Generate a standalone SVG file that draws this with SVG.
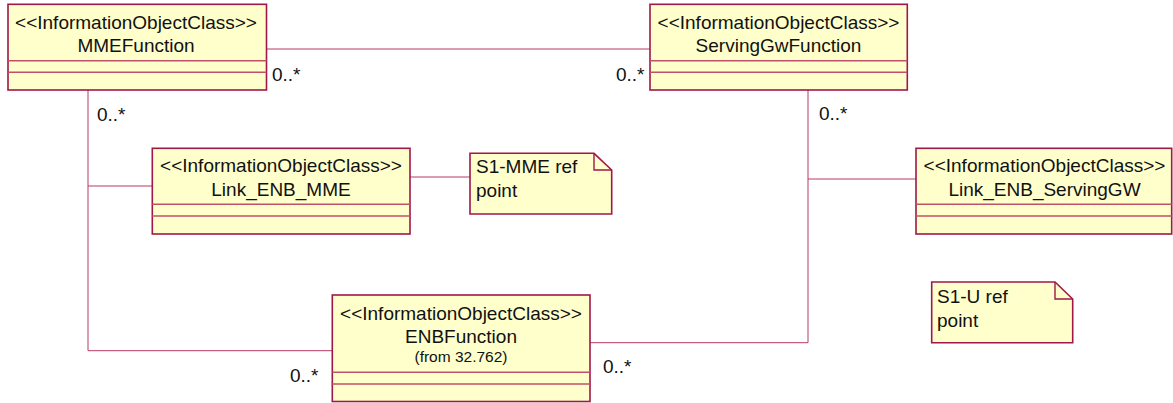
<svg xmlns="http://www.w3.org/2000/svg" width="1173" height="403" viewBox="0 0 1173 403">
<style>
text{font-family:"Liberation Sans",Arial,sans-serif;font-size:19px;fill:#111}
.c{text-anchor:middle}
.small{font-size:15.5px}
.box{fill:#FFFFCC;stroke:#A0174A;stroke-width:1.6}
.sep{stroke:#C0506A;stroke-width:1.4;fill:none}
.conn{stroke:#B83A64;stroke-width:1;fill:none}
.fold{fill:none;stroke:#A0174A;stroke-width:1.4}
</style>
<g id="connectors">
<line class="conn" x1="266" y1="49" x2="650" y2="49"/>
<polyline class="conn" points="88,90 88,350.7 332,350.7"/>
<line class="conn" x1="88" y1="186" x2="152" y2="186"/>
<line class="conn" x1="410" y1="177" x2="470" y2="177"/>
<polyline class="conn" points="808,90 808,342.7 590,342.7"/>
<line class="conn" x1="808" y1="179" x2="916" y2="179"/>
<text x="272" y="81">0..*</text>
<text x="616" y="81">0..*</text>
<text x="97" y="121">0..*</text>
<text x="819" y="120">0..*</text>
<text x="290" y="382">0..*</text>
<text x="603" y="373">0..*</text>
</g>
<g id="MMEFunction">
<rect class="box" x="8" y="4.3" width="258.5" height="85.7"/>
<line class="sep" x1="8" y1="60.7" x2="266.5" y2="60.7"/>
<line class="sep" x1="8" y1="72.3" x2="266.5" y2="72.3"/>
<text class="c" x="136" y="29">&lt;&lt;InformationObjectClass&gt;&gt;</text>
<text class="c" x="136" y="52">MMEFunction</text>
</g>
<g id="ServingGwFunction">
<rect class="box" x="650" y="4.3" width="257.3" height="85.7"/>
<line class="sep" x1="650" y1="60.7" x2="907.3" y2="60.7"/>
<line class="sep" x1="650" y1="72.3" x2="907.3" y2="72.3"/>
<text class="c" x="778.5" y="29">&lt;&lt;InformationObjectClass&gt;&gt;</text>
<text class="c" x="778.5" y="52">ServingGwFunction</text>
</g>
<g id="Link_ENB_MME">
<rect class="box" x="152.3" y="148.3" width="257.7" height="85.7"/>
<line class="sep" x1="152.3" y1="204.3" x2="410" y2="204.3"/>
<line class="sep" x1="152.3" y1="216" x2="410" y2="216"/>
<text class="c" x="281" y="172">&lt;&lt;InformationObjectClass&gt;&gt;</text>
<text class="c" x="281" y="196">Link_ENB_MME</text>
</g>
<g id="Link_ENB_ServingGW">
<rect class="box" x="916" y="148.3" width="255.7" height="85.7"/>
<line class="sep" x1="916" y1="204.3" x2="1171.7" y2="204.3"/>
<line class="sep" x1="916" y1="216" x2="1171.7" y2="216"/>
<text class="c" x="1044.5" y="172">&lt;&lt;InformationObjectClass&gt;&gt;</text>
<text class="c" x="1044.5" y="196">Link_ENB_ServingGW</text>
</g>
<g id="ENBFunction">
<rect class="box" x="332.3" y="295" width="257.7" height="106.5"/>
<line class="sep" x1="332.3" y1="372.3" x2="590" y2="372.3"/>
<line class="sep" x1="332.3" y1="384" x2="590" y2="384"/>
<text class="c" x="461" y="320">&lt;&lt;InformationObjectClass&gt;&gt;</text>
<text class="c" x="461" y="343.3">ENBFunction</text>
<text class="c small" x="461" y="362">(from 32.762)</text>
</g>
<g id="S1-MME_note">
<path class="box" d="M470,153.3 H594 L611.7,170 V214 H470 Z"/>
<path class="fold" d="M594,153.3 V170 H611.7"/>
<text x="476" y="173">S1-MME ref</text>
<text x="476" y="197">point</text>
</g>
<g id="S1-U_note">
<path class="box" d="M931.7,282 H1055 L1072.7,299 V342.7 H931.7 Z"/>
<path class="fold" d="M1055,282 V299 H1072.7"/>
<text x="937" y="303">S1-U ref</text>
<text x="937" y="327">point</text>
</g>
</svg>
